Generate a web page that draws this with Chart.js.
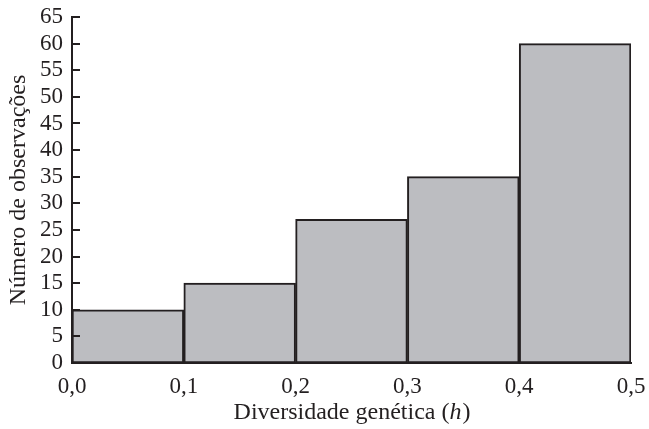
<!DOCTYPE html>
<html>
<head>
<meta charset="utf-8">
<script src="https://cdn.jsdelivr.net/npm/chart.js@4/dist/chart.umd.min.js"></script>
<style>
  html, body { margin: 0; padding: 0; background: #fff; }
  #wrap { width: 649px; height: 429px; }
</style>
</head>
<body>
<div id="wrap"><canvas id="hist"></canvas></div>
<script>
// Histogram data
const binStarts = [0.0, 0.1, 0.2, 0.3, 0.4];
const binWidth = 0.1;
const counts = [10, 15, 27, 35, 60];
const xTickValues = [0, 0.1, 0.2, 0.3, 0.4, 0.5];
const yTitle = 'Número de observações';
const xTitleMain = 'Diversidade genética (';
const xTitleVar = 'h';
const xTitleEnd = ')';

const serif = '"Liberation Serif", "Times New Roman", serif';
const ink = '#231f20';

// inward tick marks on the y axis + x title with italic h
const axisExtras = {
  id: 'axisExtras',
  afterDraw(chart) {
    const ctx = chart.ctx;
    const y = chart.scales.y;
    const x = chart.scales.x;
    ctx.save();
    ctx.strokeStyle = ink;
    ctx.lineWidth = 2;
    y.ticks.forEach(t => {
      const py = Math.round(y.getPixelForValue(t.value));
      ctx.beginPath();
      ctx.moveTo(x.left, py);
      ctx.lineTo(x.left + 8, py);
      ctx.stroke();
    });
    // x axis title
    ctx.fillStyle = ink;
    ctx.textBaseline = 'middle';
    const normal = '24px ' + serif;
    const italic = 'italic 24px ' + serif;
    ctx.font = normal;
    const w1 = ctx.measureText(xTitleMain).width;
    const w3 = ctx.measureText(xTitleEnd).width;
    ctx.font = italic;
    const w2 = ctx.measureText(xTitleVar).width;
    const total = w1 + w2 + w3;
    let sx = (x.left + x.right) / 2 - total / 2;
    const sy = 413;
    ctx.textAlign = 'left';
    ctx.font = normal;
    ctx.fillText(xTitleMain, sx, sy);
    ctx.font = italic;
    ctx.fillText(xTitleVar, sx + w1, sy);
    ctx.font = normal;
    ctx.fillText(xTitleEnd, sx + w1 + w2 + 1, sy);
    ctx.restore();
  }
};

new Chart(document.getElementById('hist'), {
  type: 'bar',
  data: {
    datasets: [{
      data: binStarts.map((s, i) => ({ x: s + binWidth / 2, y: counts[i] })),
      backgroundColor: '#bcbdc1',
      borderColor: ink,
      borderWidth: 2,
      borderSkipped: false,
      barPercentage: 1,
      categoryPercentage: 1
    }]
  },
  options: {
    responsive: true,
    maintainAspectRatio: false,
    animation: false,
    layout: { padding: { top: 17, right: 18, left: 0, bottom: 0 } },
    plugins: {
      legend: { display: false },
      tooltip: { enabled: false }
    },
    scales: {
      x: {
        type: 'linear',
        offset: false,
        min: 0,
        max: 0.5,
        afterFit: s => { s.height = 66; s.paddingLeft = 0; s.paddingRight = 0; },
        afterBuildTicks: s => { s.ticks = xTickValues.map(v => ({ value: v })); },
        ticks: {
          color: ink,
          padding: 10,
          maxRotation: 0,
          autoSkip: false,
          font: { family: serif, size: 23 },
          callback: v => v.toFixed(1).replace('.', ',')
        },
        grid: { display: false, drawTicks: false },
        border: { display: true, color: ink, width: 2 }
      },
      y: {
        min: 0,
        max: 65,
        afterFit: s => { s.width = 72; s.paddingTop = 0; s.paddingBottom = 0; },
        ticks: {
          stepSize: 5,
          autoSkip: false,
          color: ink,
          padding: 9,
          font: { family: serif, size: 23 }
        },
        grid: { display: false, drawTicks: false },
        border: { display: true, color: ink, width: 2 },
        title: {
          display: true,
          text: yTitle,
          color: ink,
          padding: { top: 4, bottom: 0 },
          font: { family: serif, size: 24 }
        }
      }
    }
  },
  plugins: [axisExtras]
});
</script>
</body>
</html>
